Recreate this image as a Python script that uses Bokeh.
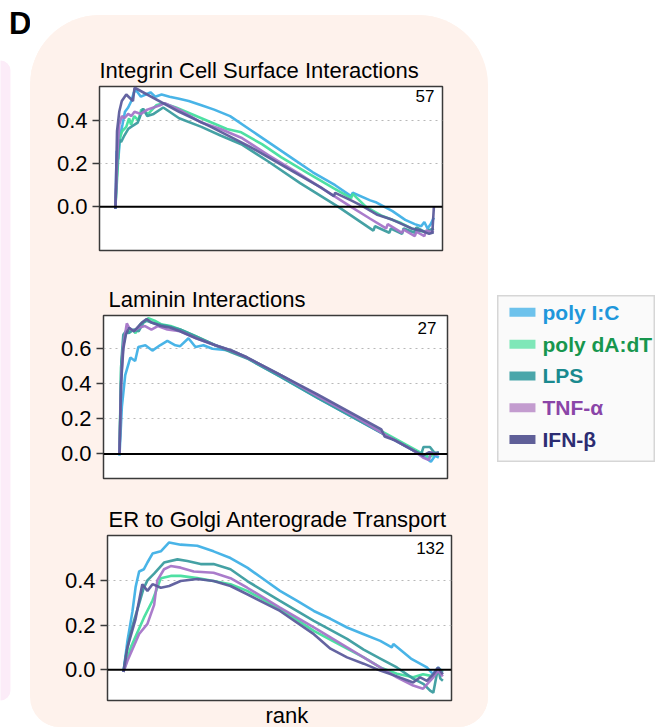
from bokeh.plotting import figure
from bokeh.models import Range1d, FixedTicker, PrintfTickFormatter, Span, Label, Title, Spacer, BoxAnnotation
from bokeh.layouts import row, column
from bokeh.embed import file_html
from bokeh.resources import INLINE
from bokeh.core.properties import value

FONT = "Liberation Sans"
PEACH = "#fef2ec"
PINK = "#fcecf8"

series_names = ["poly I:C", "poly dA:dT", "LPS", "TNF-α", "IFN-β"]
line_colors = ["#3fb0e6", "#45de9e", "#3b9c9f", "#a575c8", "#5c5c9c"]
swatch_colors = ["#6dc2ec", "#7fe7b8", "#4aa6aa", "#c39ccf", "#5f5f98"]
text_colors = ["#1e97db", "#17964e", "#1a8a8f", "#8a45a8", "#2c2c72"]

# ---------------- Integrin Cell Surface Interactions (57) ----------------
int_title = "Integrin Cell Surface Interactions"
int_count = "57"
int_ticks = [0.0, 0.2, 0.4]
int_x_polyIC = [0.0, 0.004, 0.009, 0.015, 0.022, 0.03, 0.04, 0.05, 0.058, 0.065, 0.08, 0.095, 0.11, 0.125, 0.145, 0.17, 0.2, 0.23, 0.27, 0.31, 0.36, 0.43, 0.5, 0.56, 0.62, 0.69, 0.74, 0.745, 0.80, 0.82, 0.87, 0.91, 0.94, 0.96, 0.97, 0.98, 0.99, 1.0]
int_y_polyIC = [-0.01, 0.26, 0.22, 0.33, 0.38, 0.44, 0.46, 0.49, 0.53, 0.54, 0.51, 0.52, 0.53, 0.51, 0.52, 0.51, 0.50, 0.49, 0.47, 0.45, 0.42, 0.35, 0.28, 0.22, 0.16, 0.10, 0.05, 0.065, 0.03, 0.02, -0.02, -0.06, -0.08, -0.09, -0.07, -0.10, -0.08, -0.05]
int_x_polydA = [0.0, 0.006, 0.012, 0.021, 0.034, 0.043, 0.049, 0.059, 0.072, 0.081, 0.103, 0.128, 0.15, 0.19, 0.27, 0.35, 0.395, 0.46, 0.52, 0.6, 0.686, 0.74, 0.745, 0.787, 0.834, 0.897, 0.944, 0.975, 0.99, 1.0]
int_y_polydA = [0.0, 0.15, 0.31, 0.35, 0.37, 0.41, 0.38, 0.42, 0.40, 0.45, 0.43, 0.47, 0.48, 0.46, 0.41, 0.36, 0.345, 0.29, 0.23, 0.16, 0.085, 0.04, 0.06, 0.0, -0.04, -0.075, -0.11, -0.115, -0.12, -0.12]
int_x_LPS = [0.0, 0.006, 0.012, 0.018, 0.028, 0.04, 0.049, 0.07, 0.087, 0.1, 0.12, 0.15, 0.17, 0.2, 0.27, 0.33, 0.395, 0.48, 0.58, 0.70, 0.81, 0.815, 0.86, 0.865, 0.9, 0.905, 0.94, 0.945, 0.97, 1.0]
int_y_LPS = [0.0, 0.20, 0.31, 0.30, 0.33, 0.36, 0.37, 0.39, 0.455, 0.42, 0.43, 0.46, 0.44, 0.41, 0.37, 0.33, 0.29, 0.21, 0.11, 0.0, -0.11, -0.09, -0.12, -0.10, -0.125, -0.10, -0.12, -0.095, -0.115, -0.10]
int_x_TNF = [0.0, 0.006, 0.012, 0.02, 0.028, 0.04, 0.05, 0.06, 0.08, 0.1, 0.12, 0.14, 0.155, 0.2, 0.27, 0.33, 0.395, 0.48, 0.58, 0.74, 0.8, 0.85, 0.855, 0.9, 0.905, 0.94, 0.945, 0.97, 0.975, 1.0]
int_y_TNF = [0.0, 0.25, 0.38, 0.42, 0.41, 0.43, 0.42, 0.44, 0.43, 0.45, 0.46, 0.47, 0.48, 0.45, 0.39, 0.36, 0.32, 0.24, 0.15, 0.0, -0.055, -0.10, -0.08, -0.12, -0.105, -0.135, -0.115, -0.135, -0.11, -0.12]
int_x_IFN = [0.0, 0.005, 0.012, 0.02, 0.034, 0.055, 0.06, 0.062, 0.2, 0.3, 0.42, 0.55, 0.65, 0.686, 0.69, 0.74, 0.78, 0.82, 0.87, 0.9, 0.93, 0.96, 0.985, 0.995, 1.0]
int_y_IFN = [-0.01, 0.35, 0.44, 0.49, 0.52, 0.49, 0.55, 0.55, 0.44, 0.37, 0.28, 0.17, 0.085, 0.05, 0.065, 0.03, 0.0, -0.035, -0.06, -0.08, -0.10, -0.11, -0.125, -0.12, 0.0]

# ---------------- Laminin Interactions (27) ----------------
lam_title = "Laminin Interactions"
lam_count = "27"
lam_ticks = [0.0, 0.2, 0.4, 0.6]
lam_x_polyIC = [0.0, 0.0075, 0.018, 0.034, 0.049, 0.059, 0.081, 0.103, 0.127, 0.15, 0.175, 0.19, 0.216, 0.238, 0.263, 0.291, 0.347, 0.401, 0.505, 0.62, 0.74, 0.85, 0.93, 0.955, 0.965, 0.975, 0.988, 1.0]
lam_y_polyIC = [-0.01, 0.27, 0.45, 0.55, 0.53, 0.61, 0.62, 0.59, 0.62, 0.645, 0.62, 0.615, 0.66, 0.61, 0.62, 0.60, 0.59, 0.545, 0.44, 0.32, 0.20, 0.09, 0.01, -0.02, -0.03, -0.045, -0.01, -0.02]
lam_x_polydA = [0.0, 0.005, 0.012, 0.02, 0.03, 0.04, 0.05, 0.065, 0.08, 0.09, 0.11, 0.13, 0.16, 0.19, 0.24, 0.30, 0.35, 0.40, 0.505, 0.62, 0.74, 0.84, 0.92, 0.95, 0.97, 0.985, 1.0]
lam_y_polydA = [0.0, 0.50, 0.62, 0.69, 0.70, 0.71, 0.69, 0.74, 0.76, 0.775, 0.76, 0.74, 0.73, 0.71, 0.67, 0.62, 0.59, 0.55, 0.45, 0.33, 0.21, 0.11, 0.03, 0.0, -0.02, 0.0, 0.01]
lam_x_LPS = [0.0, 0.006, 0.012, 0.02, 0.03, 0.045, 0.06, 0.075, 0.085, 0.1, 0.12, 0.15, 0.19, 0.24, 0.30, 0.35, 0.40, 0.505, 0.62, 0.74, 0.84, 0.93, 0.945, 0.952, 0.972, 0.985, 1.0]
lam_y_LPS = [0.0, 0.53, 0.68, 0.70, 0.69, 0.71, 0.70, 0.75, 0.76, 0.75, 0.74, 0.73, 0.71, 0.67, 0.62, 0.58, 0.545, 0.44, 0.32, 0.20, 0.10, 0.01, 0.0, 0.04, 0.04, 0.01, 0.0]
lam_x_TNF = [0.0, 0.006, 0.012, 0.023, 0.03, 0.045, 0.06, 0.08, 0.1, 0.12, 0.15, 0.19, 0.24, 0.30, 0.35, 0.40, 0.505, 0.62, 0.74, 0.84, 0.92, 0.95, 0.969, 0.975, 0.99, 1.0]
lam_y_TNF = [0.0, 0.45, 0.62, 0.745, 0.72, 0.70, 0.72, 0.73, 0.71, 0.73, 0.71, 0.70, 0.66, 0.62, 0.59, 0.55, 0.45, 0.33, 0.21, 0.10, 0.02, -0.02, -0.035, 0.01, -0.005, 0.0]
lam_x_IFN = [0.0, 0.005, 0.012, 0.02, 0.03, 0.045, 0.06, 0.07, 0.085, 0.1, 0.13, 0.16, 0.19, 0.24, 0.30, 0.35, 0.40, 0.505, 0.62, 0.74, 0.82, 0.83, 0.86, 0.92, 0.95, 0.97, 0.985, 1.0]
lam_y_IFN = [0.0, 0.40, 0.60, 0.68, 0.72, 0.70, 0.73, 0.75, 0.77, 0.75, 0.73, 0.72, 0.70, 0.66, 0.62, 0.59, 0.55, 0.45, 0.34, 0.22, 0.14, 0.10, 0.08, 0.02, -0.01, 0.01, 0.0, 0.01]

# ---------------- ER to Golgi Anterograde Transport (132) ----------------
er_title = "ER to Golgi Anterograde Transport"
er_count = "132"
er_ticks = [0.0, 0.2, 0.4]
er_x_polyIC = [0.0, 0.0125, 0.028, 0.038, 0.049, 0.064, 0.075, 0.091, 0.117, 0.143, 0.179, 0.231, 0.282, 0.335, 0.3875, 0.439, 0.49, 0.544, 0.596, 0.648, 0.70, 0.752, 0.804, 0.84, 0.845, 0.9, 0.95, 0.969, 0.985, 1.0]
er_y_polyIC = [-0.01, 0.13, 0.26, 0.37, 0.44, 0.45, 0.48, 0.52, 0.53, 0.57, 0.56, 0.555, 0.53, 0.50, 0.457, 0.405, 0.353, 0.308, 0.263, 0.228, 0.189, 0.159, 0.129, 0.10, 0.115, 0.05, 0.01, -0.02, 0.01, -0.01]
er_x_polydA = [0.0, 0.023, 0.064, 0.091, 0.117, 0.148, 0.179, 0.231, 0.282, 0.335, 0.3875, 0.49, 0.596, 0.70, 0.752, 0.804, 0.856, 0.907, 0.938, 0.97, 0.99, 1.0]
er_y_polydA = [-0.01, 0.10, 0.233, 0.31, 0.41, 0.42, 0.42, 0.41, 0.397, 0.383, 0.353, 0.272, 0.174, 0.094, 0.055, 0.01, -0.018, -0.034, -0.02, -0.03, 0.0, -0.01]
er_x_LPS = [0.0, 0.007, 0.02, 0.033, 0.05, 0.062, 0.075, 0.096, 0.127, 0.169, 0.2, 0.2416, 0.282, 0.335, 0.3875, 0.49, 0.596, 0.70, 0.752, 0.804, 0.856, 0.907, 0.94, 0.96, 0.97, 0.985, 0.992, 1.0]
er_y_LPS = [-0.01, 0.06, 0.15, 0.22, 0.30, 0.36, 0.40, 0.43, 0.48, 0.494, 0.487, 0.473, 0.473, 0.45, 0.397, 0.308, 0.219, 0.138, 0.09, 0.05, 0.01, -0.04, -0.065, -0.094, -0.103, 0.01, -0.04, -0.05]
er_x_TNF = [0.0, 0.0125, 0.049, 0.075, 0.096, 0.106, 0.127, 0.148, 0.179, 0.22, 0.282, 0.335, 0.3875, 0.49, 0.596, 0.70, 0.752, 0.804, 0.856, 0.907, 0.938, 0.97, 0.985, 1.0]
er_y_TNF = [-0.01, 0.04, 0.16, 0.205, 0.29, 0.40, 0.45, 0.464, 0.457, 0.44, 0.434, 0.41, 0.367, 0.278, 0.189, 0.10, 0.055, 0.01, -0.034, -0.071, -0.085, -0.034, -0.005, -0.03]
er_x_IFN = [0.0, 0.0125, 0.038, 0.049, 0.059, 0.075, 0.091, 0.117, 0.143, 0.179, 0.231, 0.282, 0.335, 0.3875, 0.49, 0.596, 0.648, 0.70, 0.752, 0.804, 0.856, 0.907, 0.929, 0.95, 0.97, 0.985, 1.0]
er_y_IFN = [-0.01, 0.10, 0.228, 0.31, 0.383, 0.353, 0.383, 0.367, 0.375, 0.397, 0.406, 0.397, 0.375, 0.338, 0.263, 0.159, 0.094, 0.055, 0.027, -0.004, -0.03, -0.057, -0.034, -0.05, -0.02, 0.01, -0.02]

x_axis_label = "rank"

HAS_STANDOFF = "standoff" in Title.properties()


def make_panel(title, count, count_offset, xs, ys, yrange, ticks, width, height, borders,
               title_offset, title_standoff, rank=False):
    left, right, top, bottom = borders
    p = figure(width=width, height=height, x_range=Range1d(-0.05, 1.027), y_range=Range1d(*yrange),
               output_backend="svg", toolbar_location=None, x_axis_location=None,
               min_border_left=left, min_border_right=right, min_border_top=top, min_border_bottom=bottom,
               title=title)
    p.background_fill_color = "white"
    p.border_fill_color = PEACH
    p.outline_line_color = "#3a3a3a"
    p.outline_line_width = 1.5
    p.title.align = "left"
    p.title.offset = title_offset
    p.title.text_font = FONT
    p.title.text_font_size = "22px"
    p.title.text_font_style = "normal"
    p.title.text_color = "black"
    if HAS_STANDOFF:
        p.title.standoff = title_standoff
    ax = p.yaxis[0]
    ax.ticker = FixedTicker(ticks=ticks)
    ax.formatter = PrintfTickFormatter(format="%.1f")
    ax.major_label_text_font = FONT
    ax.major_label_text_font_size = "22px"
    ax.major_label_text_color = "black"
    ax.major_label_standoff = 5
    ax.major_tick_out = 7
    ax.major_tick_in = 0
    ax.minor_tick_out = 0
    ax.minor_tick_in = 0
    ax.axis_line_color = None
    ax.major_tick_line_color = "#3a3a3a"
    ax.major_tick_line_width = 1.5
    p.xgrid.visible = False
    p.ygrid.ticker = FixedTicker(ticks=[t for t in ticks if t != 0])
    p.ygrid.grid_line_dash = "dotted"
    p.ygrid.grid_line_color = "#b8b8b8"
    p.ygrid.grid_line_width = 1
    p.add_layout(Span(location=0, dimension="width", line_color="black", line_width=2))
    for x, y, c in zip(xs, ys, line_colors):
        p.line(x, y, line_color=c, line_width=2.6, line_alpha=0.95)
    p.add_layout(Label(x=1.027, y=yrange[1], x_offset=count_offset[0], y_offset=count_offset[1],
                       text=count, text_align="right", text_baseline="top", text_font=FONT,
                       text_font_size="17px", text_color="black"))
    if rank:
        t = Title(text=x_axis_label, align="left", offset=158, text_font=FONT,
                  text_font_size="22px", text_font_style="normal", text_color="black")
        if HAS_STANDOFF:
            t.standoff = 0
        p.add_layout(t, "below")
    return p


f1 = make_panel(int_title, int_count, (-8, -3),
                [int_x_polyIC, int_x_polydA, int_x_LPS, int_x_TNF, int_x_IFN],
                [int_y_polyIC, int_y_polydA, int_y_LPS, int_y_TNF, int_y_IFN],
                (-0.202, 0.557), int_ticks, 449, 265, (69, 37, 71, 30), 0, 7)
f2 = make_panel(lam_title, lam_count, (-11, -6),
                [lam_x_polyIC, lam_x_polydA, lam_x_LPS, lam_x_TNF, lam_x_IFN],
                [lam_y_polyIC, lam_y_polydA, lam_y_LPS, lam_y_TNF, lam_y_IFN],
                (-0.14, 0.79), lam_ticks, 450, 220, (69, 37, 33, 22), 5, 8)
f3 = make_panel(er_title, er_count, (-7, -6),
                [er_x_polyIC, er_x_polydA, er_x_LPS, er_x_TNF, er_x_IFN],
                [er_y_polyIC, er_y_polydA, er_y_LPS, er_y_TNF, er_y_IFN],
                (-0.138, 0.601), er_ticks, 450, 227, (69, 37, 34, 27), 1, 8, rank=True)

r1 = row(f1, Spacer(width=9, height=265), width=458, height=265)
r2 = row(Spacer(width=4, height=220), f2, Spacer(width=4, height=220), width=458, height=220)
r3 = row(Spacer(width=8, height=227), f3, width=458, height=227)

panel = column(r1, r2, r3, width=458, height=712,
               styles={"background-color": PEACH, "border-radius": "70px 70px 30px 30px",
                       "overflow": "hidden"})

# legend
lg = figure(width=158, height=167, x_range=Range1d(0, 1), y_range=Range1d(4.72, -0.53),
            output_backend="svg", toolbar_location=None, x_axis_location=None,
            y_axis_location=None, min_border=0)
lg.grid.visible = False
lg.background_fill_color = "#fafafa"
lg.border_fill_color = "#fafafa"
lg.outline_line_color = "#d6d6d6"
lg.outline_line_width = 2
rows = list(range(len(series_names)))
lg.rect(x=[0.158] * len(rows), y=rows, width=26, height=9, width_units="screen",
        height_units="screen", fill_color=swatch_colors, line_color=None)
lg.text(x=[0.285] * len(rows), y=rows, text=series_names, text_color=text_colors,
        text_font=value(FONT), text_font_style="bold", text_font_size="21px",
        text_baseline="middle", text_align="left")

# panel letter + neighbouring panel edge
dfig = figure(width=30, height=727, x_range=Range1d(0, 30), y_range=Range1d(727, 0),
              output_backend="svg", toolbar_location=None, x_axis_location=None,
              y_axis_location=None, min_border=0)
dfig.grid.visible = False
dfig.outline_line_color = None
dfig.background_fill_color = "white"
dfig.border_fill_color = "white"
strip = BoxAnnotation(left=-12, right=10, top=60, bottom=700, fill_color=PINK,
                      fill_alpha=1, line_color=None)
if "border_radius" in BoxAnnotation.properties():
    strip.border_radius = 10
dfig.add_layout(strip)
dfig.add_layout(Label(x=8.5, y=5, text="D", text_baseline="top", text_align="left",
                      text_font=FONT, text_font_size="31px", text_font_style="bold",
                      text_color="black"))

root = row(dfig,
           column(Spacer(width=458, height=15), panel),
           Spacer(width=9, height=10),
           column(Spacer(width=158, height=295), lg))

open("out.html", "w").write(file_html(root, INLINE))
